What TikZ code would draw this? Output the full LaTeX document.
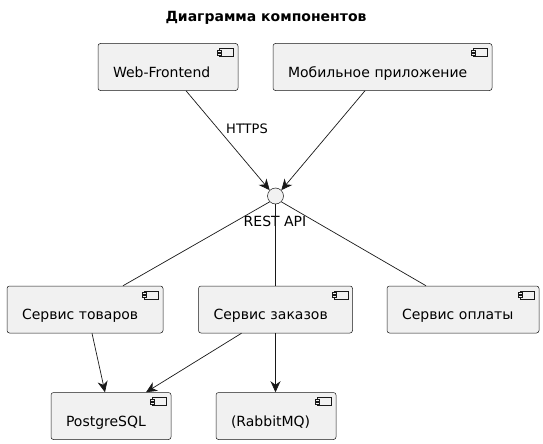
\documentclass[tikz,border=0pt]{standalone}
\usepackage{fontspec}
\setmainfont{DejaVu Sans}
\usetikzlibrary{arrows.meta,positioning}
\definecolor{CompFill}{HTML}{F1F1F1}
\definecolor{CompLine}{HTML}{181818}

\tikzset{
	comp/.style={draw=CompLine, fill=CompFill, rounded corners=2.5pt, line width=0.5pt,
		font=\fontsize{14}{16}\selectfont, inner ysep=0pt, inner xsep=15pt,
		text width=#1, align=left, text height=22.6pt, text depth=2pt, minimum height=47pt},
	link/.style={draw=CompLine, line width=0.7pt},
	uses/.style={link, -{Stealth[length=11pt, width=10pt, inset=3.5pt]}},
}

% component icon at the top right corner of a node
\newcommand{\compicon}[1]{%
	\draw[CompLine, fill=CompFill, line width=0.4pt] ([xshift=-19pt, yshift=-5pt]#1.north east) rectangle ([xshift=-5pt, yshift=-13pt]#1.north east);
	\draw[CompLine, fill=CompFill, line width=0.4pt] ([xshift=-21pt, yshift=-6.5pt]#1.north east) rectangle ([xshift=-17pt, yshift=-8.5pt]#1.north east);
	\draw[CompLine, fill=CompFill, line width=0.4pt] ([xshift=-21pt, yshift=-9.5pt]#1.north east) rectangle ([xshift=-17pt, yshift=-11.5pt]#1.north east);
}

\begin{document}
\begin{tikzpicture}[x=1pt, y=-1pt]
	\useasboundingbox (0,0) rectangle (543,444);
	\node[font=\fontsize{14}{16}\selectfont\bfseries] (title) at (266,18) {Диаграмма компонентов};

	\node[comp=110pt] (web) at (168,67) {Web-Frontend};
	\node[comp=189pt] (mobile) at (382.5,67) {Мобильное приложение};

	\node[circle, draw=CompLine, fill=CompFill, line width=0.5pt, minimum size=16pt, inner sep=0pt] (api) at (275.5,196) {};
	\node[font=\fontsize{14}{16}\selectfont] (apilabel) at (275,221) {REST API};

	\node[comp=126pt] (goods) at (85,309.5) {Сервис товаров};
	\node[comp=124pt] (orders) at (275.5,309.5) {Сервис заказов};
	\node[comp=122pt] (pay) at (463,309.5) {Сервис оплаты};

	\node[comp=90pt] (pg) at (111,416) {PostgreSQL};
	\node[comp=90pt] (mq) at (276,416) {(RabbitMQ)};

	\foreach \c in {web, mobile, goods, orders, pay, pg, mq} {\compicon{\c}}

	% связи
	\draw[uses] ([xshift=18pt]web.south) -- (api.north west);
	\node[font=\fontsize{13}{15}\selectfont] (https) at (247,128.5) {HTTPS};
	\draw[uses] ([xshift=-17.5pt]mobile.south) -- (api.north east);
	\draw[link] (api.south west) -- ([xshift=38pt]goods.north);
	\draw[link] (api.south) -- (orders.north);
	\draw[link] (api.south east) -- ([xshift=-37pt]pay.north);
	\draw[uses] ([xshift=7pt]goods.south) -- ([xshift=-6pt]pg.north);
	\draw[uses] ([xshift=-34pt]orders.south) -- ([xshift=35pt]pg.north);
	\draw[uses] (orders.south) -- (orders.south |- mq.north);
\end{tikzpicture}
\end{document}
